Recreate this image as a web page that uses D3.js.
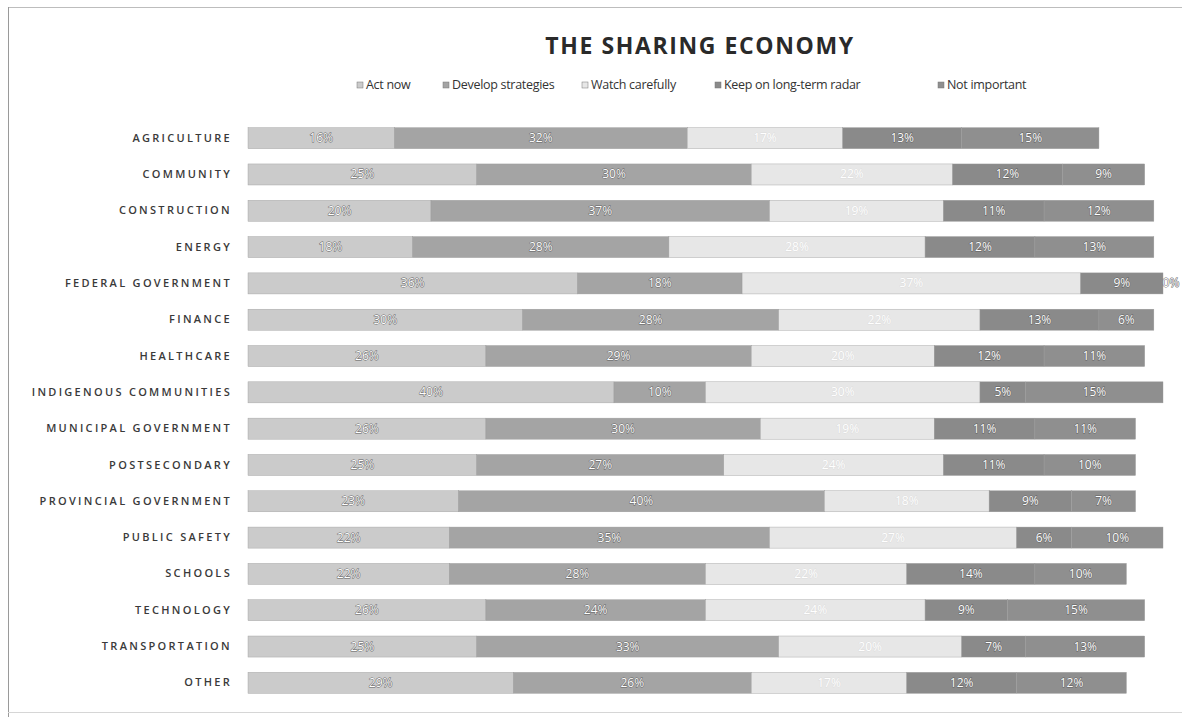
<!DOCTYPE html>
<html>
<head>
<meta charset="utf-8">
<script src="https://cdn.jsdelivr.net/npm/d3@7"></script>
<style>
  html, body { margin: 0; padding: 0; background: #fff; }
  svg { display: block; }
</style>
</head>
<body>
<svg id="chart" width="1182" height="717"></svg>
<script>
// Sectors surveyed, top to bottom
const categories = [
  "AGRICULTURE", "COMMUNITY", "CONSTRUCTION", "ENERGY", "FEDERAL GOVERNMENT",
  "FINANCE", "HEALTHCARE", "INDIGENOUS COMMUNITIES", "MUNICIPAL GOVERNMENT",
  "POSTSECONDARY", "PROVINCIAL GOVERNMENT", "PUBLIC SAFETY", "SCHOOLS",
  "TECHNOLOGY", "TRANSPORTATION", "OTHER"
];

// Response series, in stacking order
const seriesNames = ["Act now", "Develop strategies", "Watch carefully", "Keep on long-term radar", "Not important"];

// Percent of respondents per sector for each response
const actNow        = [16, 25, 20, 18, 36, 30, 26, 40, 26, 25, 23, 22, 22, 26, 25, 29];
const developStrat  = [32, 30, 37, 28, 18, 28, 29, 10, 30, 27, 40, 35, 28, 24, 33, 26];
const watchCarefully= [17, 22, 19, 28, 37, 22, 20, 30, 19, 24, 18, 27, 22, 24, 20, 17];
const keepOnRadar   = [13, 12, 11, 12,  9, 13, 12,  5, 11, 11,  9,  6, 14,  9,  7, 12];
const notImportant  = [15,  9, 12, 13,  0,  6, 11, 15, 11, 10,  7, 10, 10, 15, 13, 12];

const seriesValues = [actNow, developStrat, watchCarefully, keepOnRadar, notImportant];
const seriesColors = ["#cbcbcb", "#a4a4a4", "#e7e7e7", "#8a8a8a", "#8f8f8f"];

// Rows for the stack layout
const rows = categories.map((c, i) => {
  const r = { category: c };
  seriesNames.forEach((s, j) => { r[s] = seriesValues[j][i]; });
  return r;
});

const svg = d3.select("#chart");

// Page frame
svg.append("line").attr("x1", 8).attr("x2", 1182).attr("y1", 7.5).attr("y2", 7.5)
  .attr("stroke", "#bdbdbd").attr("stroke-width", 1);
svg.append("line").attr("x1", 8.5).attr("x2", 8.5).attr("y1", 7).attr("y2", 717)
  .attr("stroke", "#9a9a9a").attr("stroke-width", 1);
svg.append("line").attr("x1", 8).attr("x2", 1182).attr("y1", 712.5).attr("y2", 712.5)
  .attr("stroke", "#d6d6d6").attr("stroke-width", 1);

const x = d3.scaleLinear().domain([0, 100]).range([248, 1163]);
const y = d3.scaleBand().domain(categories).range([120, 701])
  .paddingInner(0.42).paddingOuter(0.21);

const stack = d3.stack().keys(seriesNames);
const stacked = stack(rows);

// Title
svg.append("text")
  .attr("x", 700).attr("y", 54)
  .attr("text-anchor", "middle")
  .attr("font-family", "'Open Sans', 'DejaVu Sans', sans-serif")
  .attr("font-weight", 700)
  .attr("font-size", 23)
  .attr("letter-spacing", 1.6)
  .attr("fill", "#2a2a2a")
  .text("THE SHARING ECONOMY");

// Legend
const legendX = [357, 443, 582, 715, 938];
const legend = svg.append("g").attr("class", "legend");
seriesNames.forEach((s, i) => {
  const g = legend.append("g").attr("transform", `translate(${legendX[i]},89)`);
  g.append("rect").attr("x", 0).attr("y", -7).attr("width", 6).attr("height", 6)
    .attr("fill", seriesColors[i]).attr("stroke", "#777").attr("stroke-width", 0.5);
  g.append("text").attr("x", 9).attr("y", 0)
    .attr("font-family", "'Open Sans', sans-serif")
    .attr("font-size", 12.5)
    .attr("letter-spacing", -0.3)
    .attr("fill", "#333")
    .text(s);
});

// Category axis
const yAxis = d3.axisLeft(y).tickSize(0).tickPadding(16);
const axisG = svg.append("g").attr("transform", `translate(${x(0)},0)`).call(yAxis);
axisG.select(".domain").remove();
axisG.selectAll("text")
  .attr("font-family", "'Open Sans', 'DejaVu Sans', sans-serif")
  .attr("font-size", 11)
  .attr("font-weight", 600)
  .attr("letter-spacing", 2.3)
  .attr("fill", "#3a3a3a");

// Stacked bars
const layers = svg.append("g").selectAll("g.layer")
  .data(stacked)
  .join("g")
  .attr("class", "layer")
  .attr("fill", (d, i) => seriesColors[i]);

layers.selectAll("rect")
  .data(d => d)
  .join("rect")
  .attr("x", d => x(d[0]))
  .attr("y", d => y(d.data.category))
  .attr("width", d => x(d[1]) - x(d[0]))
  .attr("height", y.bandwidth())
  .attr("stroke", "#9c9c9c")
  .attr("stroke-width", 0.4);

// Value labels
const labels = svg.append("g");
stacked.forEach((layer, i) => {
  labels.selectAll(null)
    .data(layer)
    .join("text")
    .attr("x", d => (x(d[0]) + x(d[1])) / 2 + (d[1] - d[0] === 0 ? 8 : 0))
    .attr("y", d => y(d.data.category) + y.bandwidth() / 2 + 4)
    .attr("text-anchor", "middle")
    .attr("font-family", "'Open Sans', sans-serif")
    .attr("font-size", 12)
    .attr("fill", "#ffffff")
    .attr("stroke", i === 2 ? "#d4d4d4" : "#5e5e5e")
    .attr("stroke-width", i === 2 ? 0.5 : 0.9)
    .attr("paint-order", "stroke")
    .text(d => (d[1] - d[0]) + "%");
});
</script>
</body>
</html>
